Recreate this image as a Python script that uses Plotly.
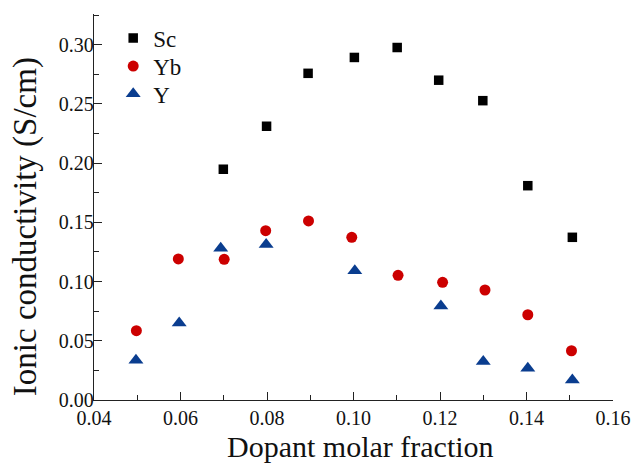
import plotly.graph_objects as go

# Data
sc_x = [0.0699, 0.0799, 0.0895, 0.1002, 0.1101, 0.1197, 0.1299, 0.1403, 0.1506]
sc_y = [0.1949, 0.2312, 0.2759, 0.2893, 0.2977, 0.2701, 0.2528, 0.1810, 0.1374]

yb_x = [0.0498, 0.0595, 0.0701, 0.0797, 0.0896, 0.0996, 0.1103, 0.1206, 0.1304, 0.1403, 0.1504]
yb_y = [0.0585, 0.1191, 0.1188, 0.1430, 0.1512, 0.1374, 0.1053, 0.0994, 0.0929, 0.0720, 0.0416]

y_x = [0.0497, 0.0597, 0.0693, 0.0798, 0.1003, 0.1202, 0.1300, 0.1403, 0.1506]
y_y = [0.0335, 0.0650, 0.1281, 0.1314, 0.1092, 0.0793, 0.0326, 0.0268, 0.0168]

x_ticks = [0.04, 0.06, 0.08, 0.10, 0.12, 0.14, 0.16]
y_ticks = [0.00, 0.05, 0.10, 0.15, 0.20, 0.25, 0.30]

x_title = "Dopant molar fraction"
y_title = "Ionic conductivity (S/cm)"

FONT = "Liberation Serif, Times New Roman, serif"
TXT = "#111111"

fig = go.Figure()
fig.add_trace(go.Scatter(x=sc_x, y=sc_y, mode="markers", name="Sc", legend="legend",
                         marker=dict(symbol="square", size=9.5, color="#000000",
                                     line=dict(width=0))))
fig.add_trace(go.Scatter(x=yb_x, y=yb_y, mode="markers", name="Yb", legend="legend2",
                         marker=dict(symbol="circle", size=11, color="#cc0000",
                                     line=dict(width=0))))
fig.add_trace(go.Scatter(x=y_x, y=y_y, mode="markers", name="Y", legend="legend3",
                         marker=dict(symbol="triangle-up", size=13, color="#0a3d8f",
                                     line=dict(width=0))))

axis_common = dict(
    showline=True, linecolor="#222222", linewidth=1.3, mirror=False,
    showgrid=False, zeroline=False, automargin=False,
    ticks="inside", ticklen=8, tickwidth=1.3, tickcolor="#222222",
    tickfont=dict(family=FONT, size=20, color=TXT),
    minor=dict(ticks="inside", ticklen=5, tickwidth=1.3, tickcolor="#222222", showgrid=False),
)

def leg(yc):
    return dict(x=0.037, y=yc, xanchor="left", yanchor="middle",
                font=dict(family=FONT, size=23, color=TXT),
                bgcolor="rgba(0,0,0,0)", borderwidth=0, itemsizing="trace")

fig.update_layout(
    width=634, height=463,
    margin=dict(l=94, r=21, t=14, b=63),
    paper_bgcolor="white", plot_bgcolor="white",
    font=dict(family=FONT, color=TXT),
    showlegend=True,
    legend=leg(0.938), legend2=leg(0.865), legend3=leg(0.793),
    xaxis=dict(range=[0.04, 0.16], tickvals=x_ticks,
               ticktext=[f"{v:.2f}" for v in x_ticks],
               ticklabeloverflow="allow",
               **axis_common),
    yaxis=dict(range=[0, 0.326], tickvals=y_ticks,
               ticktext=[f"{v:.2f}" for v in y_ticks],
               ticklabelstandoff=-5,
               **axis_common),
    annotations=[
        dict(text=x_title, xref="paper", yref="paper", x=0.5135, y=-0.121,
             xanchor="center", yanchor="middle", showarrow=False,
             font=dict(family=FONT, size=30, color=TXT)),
        dict(text=y_title, xref="paper", yref="paper", x=-0.132, y=0.449,
             xanchor="center", yanchor="middle", showarrow=False, textangle=-90,
             font=dict(family=FONT, size=33, color=TXT)),
    ],
)
fig.update_xaxes(minor=dict(dtick=0.01, tick0=0.04))
fig.update_yaxes(minor=dict(dtick=0.025, tick0=0))

fig.write_html("out.html", config={"displayModeBar": False},
               post_script="document.body.style.margin='0';document.body.style.overflow='hidden';")
